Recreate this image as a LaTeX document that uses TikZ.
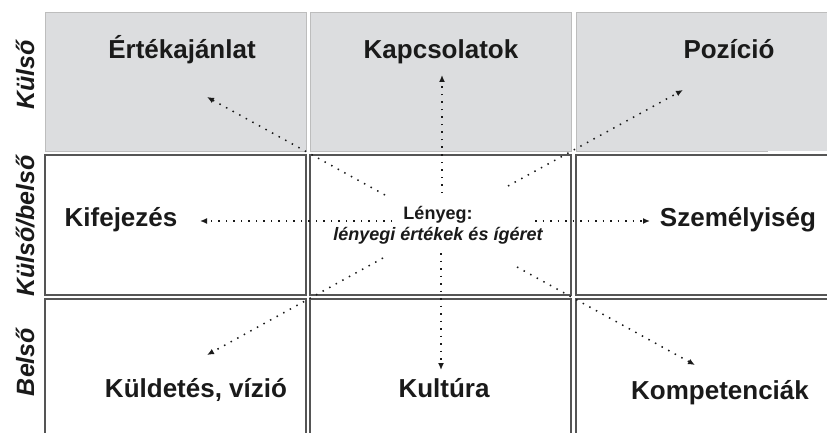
\documentclass[tikz,border=0pt]{standalone}
\usepackage{fontspec}
\setmainfont{Liberation Sans}
\usetikzlibrary{arrows.meta}

\definecolor{panelgray}{HTML}{DCDDDF}
\definecolor{panelline}{HTML}{BDBDBD}
\definecolor{boxline}{HTML}{555555}
\definecolor{ink}{HTML}{1A1A1A}

\tikzset{
  graypanel/.style={fill=panelgray, draw=panelline, line width=0.8pt},
  whitepanel/.style={fill=white, draw=boxline, line width=1.4pt},
  title/.style={font=\fontsize{26}{30}\selectfont\bfseries, text=ink, anchor=base, inner sep=0pt},
  sidelabel/.style={font=\fontsize{25}{29}\selectfont\bfseries\itshape, text=ink, anchor=base, rotate=90, inner sep=0pt},
  coretext/.style={font=\fontsize{18}{22}\selectfont\bfseries, text=ink, anchor=base, inner sep=0pt},
  ray/.style={draw=ink, line width=1.5pt, dash pattern=on 1.5pt off 6pt,
    -{Latex[length=7pt,width=6pt]}},
}

\begin{document}
\begin{tikzpicture}[x=1pt, y=-1pt]
\useasboundingbox (0,0) rectangle (827,433);
\clip (0,0) rectangle (827,433);

% top row: outer (shaded) panels
\draw[graypanel] (45,12) rectangle (306,151);
\draw[graypanel] (310,12) rectangle (571,151);
\fill[panelgray] (576,12) rectangle (840,151);
\draw[panelline, line width=0.8pt] (768,151) -- (576,151) -- (576,12) -- (840,12);

% middle row
\draw[whitepanel] (45,155) rectangle (306,295);
\draw[whitepanel] (310,155) rectangle (571,295);
\draw[whitepanel] (576,155) rectangle (845,295);

% bottom row
\draw[whitepanel] (45,299) rectangle (306,445);
\draw[whitepanel] (310,299) rectangle (571,445);
\draw[whitepanel] (576,299) rectangle (845,445);

% row captions
\node[sidelabel] (kulso) at (34,75) {Külső};
\node[sidelabel] (kulsobelso) at (34,226) {Külső/belső};
\node[sidelabel] (belso) at (34,362) {Belső};

% panel titles
\node[title] (ertek) at (182,59) {Értékajánlat};
\node[title] (kapcs) at (441,59) {Kapcsolatok};
\node[title] (pozicio) at (729,59) {Pozíció};
\node[title] (kifej) at (121,226) {Kifejezés};
\node[title] (szemely) at (738,226) {Személyiség};
\node[title] (kuldetes) at (196,397) {Küldetés, vízió};
\node[title] (kultura) at (444,397) {Kultúra};
\node[title] (kompet) at (720,399) {Kompetenciák};

% core statement
\node[coretext] (lenyeg) at (438,219) {Lényeg:};
\node[coretext, font=\fontsize{18}{22}\selectfont\bfseries\itshape] (lenyegi) at (438,240) {lényegi értékek és ígéret};

% ray end points
\coordinate (sUp) at (442,193);   \coordinate (tUp) at (442,75);
\coordinate (sDn) at (441,253);   \coordinate (tDn) at (441,370);
\coordinate (sLt) at (392,221);   \coordinate (tLt) at (200,221);
\coordinate (sRt) at (535,221);   \coordinate (tRt) at (650,221);
\coordinate (sUL) at (385,195);   \coordinate (tUL) at (207,97);
\coordinate (sUR) at (508,186);   \coordinate (tUR) at (683,90);
\coordinate (sDL) at (383,258);   \coordinate (tDL) at (207,355);
\coordinate (sDR) at (517,267);   \coordinate (tDR) at (695,365);

% dotted rays from the core
\draw[ray] (sUp) -- (tUp);
\draw[ray] (sDn) -- (tDn);
\draw[ray] (sLt) -- (tLt);
\draw[ray] (sRt) -- (tRt);
\draw[ray] (sUL) -- (tUL);
\draw[ray] (sUR) -- (tUR);
\draw[ray] (sDL) -- (tDL);
\draw[ray] (sDR) -- (tDR);
\end{tikzpicture}
\end{document}
